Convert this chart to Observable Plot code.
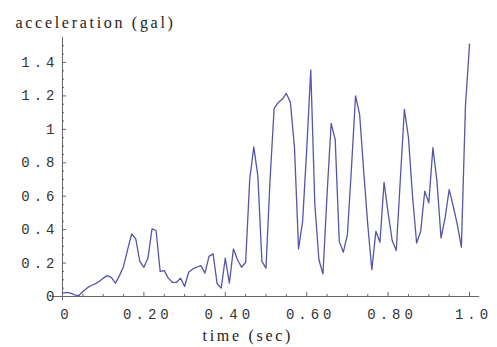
<!DOCTYPE html>
<html>
<head>
<meta charset="utf-8">
<script src="https://cdn.jsdelivr.net/npm/d3@7"></script>
<script src="https://cdn.jsdelivr.net/npm/@observablehq/plot@0.6"></script>
<style>
  html, body { margin: 0; padding: 0; background: #fff; }
</style>
</head>
<body>
<div id="chart"></div>
<script>
const times = [0.00,0.01,0.02,0.03,0.04,0.05,0.06,0.07,0.08,0.09,
  0.10,0.11,0.12,0.13,0.14,0.15,0.16,0.17,0.18,0.19,
  0.20,0.21,0.22,0.23,0.24,0.25,0.26,0.27,0.28,0.29,
  0.30,0.31,0.32,0.33,0.34,0.35,0.36,0.37,0.38,0.39,
  0.40,0.41,0.42,0.43,0.44,0.45,0.46,0.47,0.48,0.49,
  0.50,0.51,0.52,0.53,0.54,0.55,0.56,0.57,0.58,0.59,
  0.60,0.61,0.62,0.63,0.64,0.65,0.66,0.67,0.68,0.69,
  0.70,0.71,0.72,0.73,0.74,0.75,0.76,0.77,0.78,0.79,
  0.80,0.81,0.82,0.83,0.84,0.85,0.86,0.87,0.88,0.89,
  0.90,0.91,0.92,0.93,0.94,0.95,0.96,0.97,0.98,0.99,1.00];
const accel = [0.02,0.025,0.02,0.01,0.005,0.03,0.05,0.066,0.076,0.09,
  0.11,0.125,0.115,0.08,0.125,0.18,0.28,0.375,0.345,0.21,
  0.175,0.23,0.405,0.395,0.15,0.155,0.11,0.085,0.085,0.11,
  0.06,0.145,0.165,0.175,0.185,0.14,0.24,0.255,0.076,0.05,
  0.23,0.08,0.285,0.22,0.175,0.205,0.70,0.895,0.72,0.21,
  0.17,0.70,1.125,1.16,1.18,1.215,1.16,0.89,0.285,0.45,
  0.88,1.355,0.55,0.22,0.135,0.61,1.035,0.94,0.33,0.265,
  0.37,0.77,1.2,1.09,0.75,0.43,0.16,0.39,0.325,0.683,
  0.50,0.335,0.275,0.70,1.12,0.95,0.60,0.32,0.39,0.63,
  0.56,0.89,0.69,0.35,0.47,0.64,0.54,0.43,0.295,1.14,1.51];

const xMajor = [0, 0.2, 0.4, 0.6, 0.8, 1.0];
const xLabels = ["0", "0.20", "0.40", "0.60", "0.80", "1.0"];
const xMinor = [0.05,0.1,0.15,0.25,0.3,0.35,0.45,0.5,0.55,0.65,0.7,0.75,0.85,0.9,0.95];
const yMajor = [0, 0.2, 0.4, 0.6, 0.8, 1.0, 1.2, 1.4];
const yLabels = ["0", "0.2", "0.4", "0.6", "0.8", "1", "1.2", "1.4"];
const yMinor = [0.05,0.1,0.15,0.25,0.3,0.35,0.45,0.5,0.55,0.65,0.7,0.75,0.85,0.9,0.95,
  1.05,1.1,1.15,1.25,1.3,1.35,1.45,1.5];
const xTitle = "time (sec)";
const yTitle = "acceleration (gal)";

const data = times.map((t, i) => ({t, a: accel[i]}));
const xTicks = xMajor.map((v, i) => ({v, label: xLabels[i]}));
const yTicks = yMajor.map((v, i) => ({v, label: yLabels[i]}));

const axisColor = "#666";
const plot = Plot.plot({
  width: 497,
  height: 347,
  marginLeft: 51.8,
  marginRight: 17.8,
  marginTop: 36.9,
  marginBottom: 46.8,
  x: {domain: [-0.025, 1.025], axis: null},
  y: {domain: [-0.025, 1.55], axis: null},
  style: {background: "#fff"},
  marks: [
    Plot.ruleX([0], {stroke: axisColor, strokeWidth: 1}),
    Plot.ruleY([0], {stroke: axisColor, strokeWidth: 1}),
    Plot.ruleX(xMajor, {x: d => d, y1: () => 0, y2: () => 0.024, stroke: axisColor}),
    Plot.ruleX(xMinor, {x: d => d, y1: () => 0, y2: () => 0.012, stroke: axisColor}),
    Plot.ruleY(yMajor, {y: d => d, x1: () => 0, x2: () => 0.01, stroke: axisColor}),
    Plot.ruleY(yMinor, {y: d => d, x1: () => 0, x2: () => 0.005, stroke: axisColor}),
    Plot.line(data, {x: "t", y: "a", stroke: "#5656a6", strokeWidth: 1.3}),
    Plot.text(xTicks, {x: "v", y: () => 0, text: "label", dy: 17.5, dx: 4, lineAnchor: "middle",
      fontFamily: "Liberation Mono", fontSize: 14, fill: "#333"}),
    Plot.text(yTicks, {x: () => 0, y: "v", text: "label", dx: -4, textAnchor: "end", lineAnchor: "middle",
      fontFamily: "Liberation Mono", fontSize: 14, fill: "#333"}),
    Plot.text([yTitle], {frameAnchor: "top-left", text: d => d, dx: -36.8, dy: -9.6, textAnchor: "start",
      lineAnchor: "bottom", fontFamily: "Liberation Serif", fontSize: 16, fill: "#222"}),
    Plot.text([xTitle], {frameAnchor: "bottom", text: d => d, dx: -18.2, dy: 39.8,
      lineAnchor: "bottom", fontFamily: "Liberation Serif", fontSize: 16, fill: "#222"})
  ]
});
// letter spacing for the text groups, in mark order
const groups = plot.querySelectorAll('g[aria-label="text"]');
const spacing = ["4px", "4px", "2.7px", "2.7px"];
groups.forEach((g, i) => { if (spacing[i]) g.setAttribute("letter-spacing", spacing[i]); });
document.getElementById("chart").appendChild(plot);
</script>
</body>
</html>
